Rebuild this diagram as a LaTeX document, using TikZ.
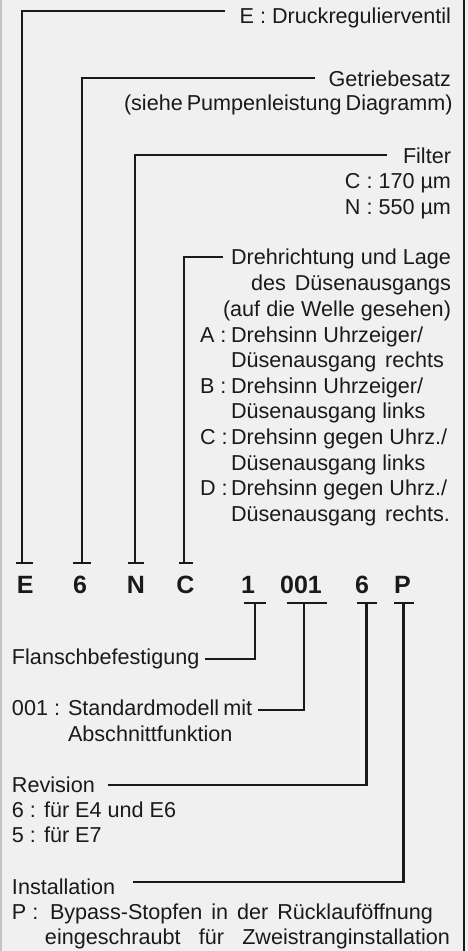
\documentclass[tikz,border=0pt]{standalone}
\usepackage{fontspec}
\setmainfont{Liberation Sans}
\definecolor{bg}{HTML}{F0F0F0}
\definecolor{ink}{HTML}{1A1A1A}
\definecolor{frameL}{HTML}{C4C4C4}
\begin{document}
\begin{tikzpicture}[x=1pt,y=-1pt,
  lbl/.style={inner sep=0pt, outer sep=0pt, text=ink, font=\fontsize{21.6}{25}\selectfont},
  code/.style={inner sep=0pt, outer sep=0pt, text=ink, font=\fontsize{25}{30}\selectfont\bfseries},
  conn/.style={draw=ink, line width=2.2pt, line join=miter}]
\useasboundingbox (0,0) rectangle (468,951);
\fill[bg] (0,0) rectangle (468,951);
\fill[frameL] (0,0) rectangle (2,951);
\fill[ink] (463,0) rectangle (465,951);

% upper labels
\node[lbl, anchor=base east] (lE) at (451,23) {E : Druckregulierventil};
\node[lbl, anchor=base east] (lG1) at (451,86) {Getriebesatz};
\node[lbl, anchor=base east] (lG2) at (451,110) {\makebox[327pt][s]{(siehe Pumpenleistung Diagramm)}};
\node[lbl, anchor=base east] (lF1) at (451,163) {Filter};
\node[lbl, anchor=base east] (lF2) at (451,188) {C : 170 µm};
\node[lbl, anchor=base east] (lF3) at (451,214) {N : 550 µm};
\node[lbl, anchor=base east] (lD1) at (451,264) {\makebox[220pt][s]{Drehrichtung und Lage}};
\node[lbl, anchor=base east] (lD2) at (451,290) {\makebox[200pt][s]{des \ Düsenausgangs}};
\node[lbl, anchor=base east] (lD3) at (451,316) {\makebox[228pt][s]{(auf die Welle gesehen)}};
\node[lbl, anchor=base west] (kA) at (200,342) {A :};
\node[lbl, anchor=base west] (tA1) at (231,342) {Drehsinn Uhrzeiger/};
\node[lbl, anchor=base west] (tA2) at (231,367) {\makebox[213pt][s]{Düsenausgang rechts}};
\node[lbl, anchor=base west] (kB) at (200,393) {B :};
\node[lbl, anchor=base west] (tB1) at (231,393) {Drehsinn Uhrzeiger/};
\node[lbl, anchor=base west] (tB2) at (231,418) {Düsenausgang links};
\node[lbl, anchor=base west] (kC) at (200,444) {C :};
\node[lbl, anchor=base west] (tC1) at (231,444) {Drehsinn gegen Uhrz./};
\node[lbl, anchor=base west] (tC2) at (231,470) {Düsenausgang links};
\node[lbl, anchor=base west] (kD) at (200,495) {D :};
\node[lbl, anchor=base west] (tD1) at (231,495) {Drehsinn gegen Uhrz./};
\node[lbl, anchor=base west] (tD2) at (231,521) {\makebox[219pt][s]{Düsenausgang rechts.}};

% code letters
\node[code, anchor=base] (cE) at (25.3,593) {E};
\node[code, anchor=base] (c6a) at (80,593) {6};
\node[code, anchor=base] (cN) at (136,593) {N};
\node[code, anchor=base] (cC) at (185.5,593) {C};
\node[code, anchor=base] (c1) at (248,593) {1};
\node[code, anchor=base] (c001) at (301,593) {001};
\node[code, anchor=base] (c6b) at (362,593) {6};
\node[code, anchor=base] (cP) at (402.5,593) {P};

% lower labels
\node[lbl, anchor=base west] (lFl) at (12,664) {Flanschbefestigung};
\node[lbl, anchor=base west] (k001) at (12,715) {001 :};
\node[lbl, anchor=base west] (l001a) at (68,715) {\makebox[182pt][s]{Standardmodell mit}};
\node[lbl, anchor=base west] (l001b) at (68,741) {Abschnittfunktion};
\node[lbl, anchor=base west] (lR1) at (12,792) {Revision};
\node[lbl, anchor=base west] (lR2) at (12,817) {6 : für E4 und E6};
\node[lbl, anchor=base west] (lR3) at (12,842) {5 : für E7};
\node[lbl, anchor=base west] (lI1) at (12,894) {Installation};
\node[lbl, anchor=base west] (kP) at (12,919) {P :};
\node[lbl, anchor=base west] (lI2) at (50,919) {\makebox[383pt][s]{Bypass-Stopfen in der Rücklauföffnung}};
\node[lbl, anchor=base west] (lI3) at (45,944) {\makebox[405pt][s]{eingeschraubt für Zweistranginstallation}};

% connector end points
\coordinate (hE) at (225,11);    \coordinate (vE) at (22.3,563);
\coordinate (hG) at (315,78);    \coordinate (vG) at (81.7,563);
\coordinate (hF) at (387,155);   \coordinate (vF) at (135.3,563);
\coordinate (hD) at (223,257);   \coordinate (vD) at (184,563);
\coordinate (v1) at (255,603);   \coordinate (h1) at (205,659);
\coordinate (v001) at (304,603); \coordinate (h001) at (258,710);
\coordinate (v6) at (366.5,603); \coordinate (h6) at (108,785);
\coordinate (vP) at (403.5,603); \coordinate (hP) at (133,882);

% upper connectors
\draw[conn] (hE) -| (vE);
\draw[conn] ([xshift=-6.6pt]vE) -- ([xshift=11pt]vE);
\draw[conn] (hG) -| (vG);
\draw[conn] ([xshift=-9pt]vG) -- ([xshift=9pt]vG);
\draw[conn] (hF) -| (vF);
\draw[conn] ([xshift=-7.3pt]vF) -- ([xshift=8.7pt]vF);
\draw[conn] (hD) -| (vD);
\draw[conn] ([xshift=-5pt]vD) -- ([xshift=9pt]vD);

% lower connectors
\draw[conn] (v1) |- (h1);
\draw[conn] ([xshift=-11pt]v1) -- ([xshift=10.7pt]v1);
\draw[conn] (v001) |- (h001);
\draw[conn] ([xshift=-16.7pt]v001) -- ([xshift=22.7pt]v001);
\draw[conn] (v6) |- (h6);
\draw[conn] ([xshift=-9.2pt]v6) -- ([xshift=10.8pt]v6);
\draw[conn] (vP) |- (hP);
\draw[conn] ([xshift=-9.5pt]vP) -- ([xshift=10.5pt]vP);
\end{tikzpicture}
\end{document}
